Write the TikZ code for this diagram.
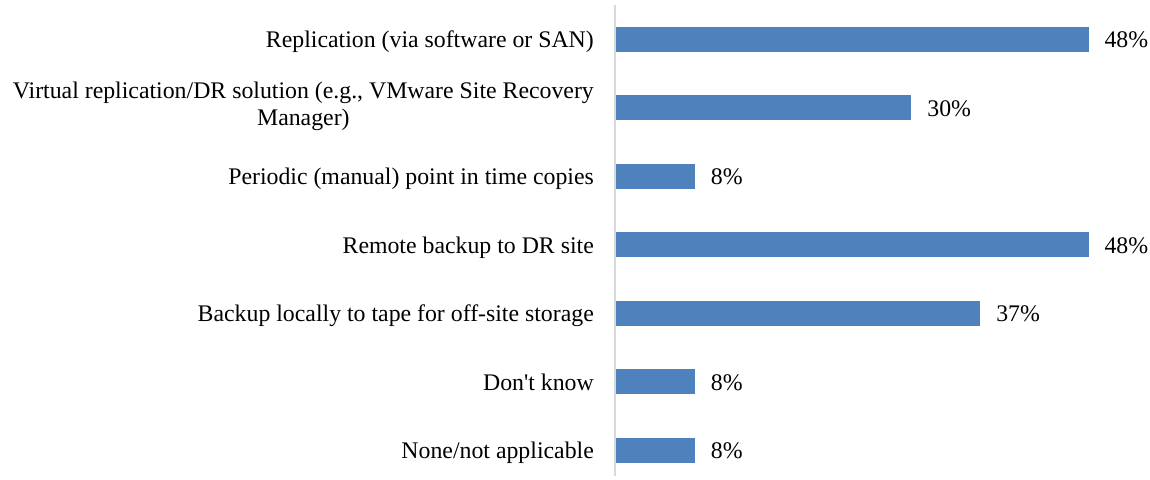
\documentclass[tikz,border=0pt]{standalone}
\usepackage{fontspec}
\setmainfont{Liberation Serif}
\definecolor{barblue}{HTML}{4F81BD}
\definecolor{axisgray}{HTML}{D9D9D9}
\begin{document}
\begin{tikzpicture}[x=1pt,y=-1pt,
  bar/.style={fill=barblue, draw=none, inner sep=0pt, minimum height=25pt, anchor=west},
  cat/.style={font=\fontsize{23.8}{27}\selectfont, inner sep=0pt, anchor=base east},
  cattwo/.style={font=\fontsize{23.8}{27}\selectfont, inner sep=0pt, anchor=east, align=center},
  pct/.style={font=\fontsize{23.8}{27}\selectfont, inner sep=0pt, anchor=base west}]
\useasboundingbox (0,0) rectangle (1150,479);
\draw[axisgray, line width=1.5pt] (615,5) coordinate (axtop) -- (615,476) coordinate (axbot);
\foreach \i/\v/\t in {0/48/{Replication (via software or SAN)},
                      2/8/{Periodic (manual) point in time copies},
                      3/48/{Remote backup to DR site},
                      4/37/{Backup locally to tape for off-site storage},
                      5/8/{Don\textquotesingle{}t know},
                      6/8/{None/not applicable}}{
  \pgfmathsetmacro{\yc}{39.5+68.45*\i}
  \pgfmathsetmacro{\w}{\v*9.84}
  \node[bar, minimum width=\w pt] (bar\i) at (616,\yc) {};
  \node[cat] (cat\i) at (594,\yc+8.4) {\t};
  \node[pct] (pct\i) at (616+\w+16,\yc+8.4) {\v\%};
}
\pgfmathsetmacro{\yc}{39.5+68.45}
\pgfmathsetmacro{\w}{30*9.84}
\node[bar, minimum width=\w pt] (bar1) at (616,\yc) {};
\node[cattwo] (cat1) at (594,\yc-1.5) {Virtual replication/DR solution (e.g., VMware Site Recovery\\Manager)};
\node[pct] (pct1) at (616+\w+16,\yc+8.4) {30\%};
\end{tikzpicture}
\end{document}
